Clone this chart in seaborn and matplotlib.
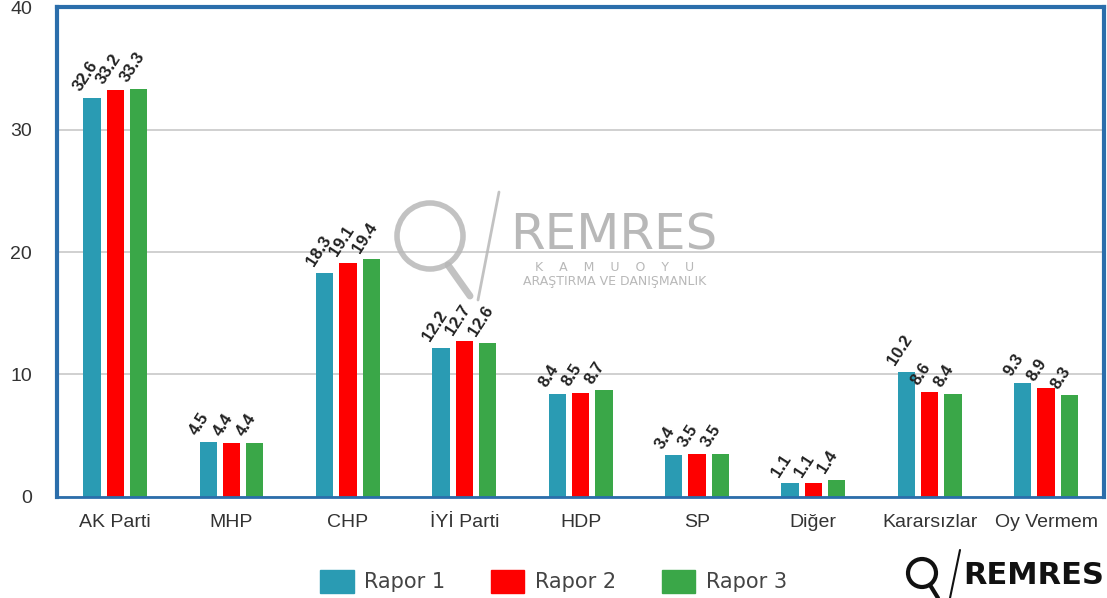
"""Remres poll comparison: three reports, grouped bars."""
import pandas as pd
import matplotlib.pyplot as plt
import matplotlib.patches as mpatches
import matplotlib.lines as mlines
import seaborn as sns

parties = ['AK Parti', 'MHP', 'CHP', 'İYİ Parti', 'HDP', 'SP', 'Diğer', 'Kararsızlar', 'Oy Vermem']
rapor1 = [32.6, 4.5, 18.3, 12.2, 8.4, 3.4, 1.1, 10.2, 9.3]
rapor2 = [33.2, 4.4, 19.1, 12.7, 8.5, 3.5, 1.1, 8.6, 8.9]
rapor3 = [33.3, 4.4, 19.4, 12.6, 8.7, 3.5, 1.4, 8.4, 8.3]
series = ['Rapor 1', 'Rapor 2', 'Rapor 3']
colors = ['#2a9bb3', '#fe0000', '#3aa748']
yticks = [0, 10, 20, 30, 40]

df = pd.DataFrame({'parti': parties, 'Rapor 1': rapor1, 'Rapor 2': rapor2, 'Rapor 3': rapor3})
long = df.melt(id_vars='parti', var_name='rapor', value_name='oy')

sns.set_style('white')
plt.rcParams['font.family'] = ['Liberation Sans', 'DejaVu Sans']

fig = plt.figure(figsize=(11.07, 5.98), dpi=100)
ax = fig.add_axes([0.0515, 0.169, 0.946, 0.819])

# watermark goes under the bars
wm = '#b8b8b8'
fig.patches.append(mpatches.Circle((430, 598 - 236), 33, transform=None, fill=False,
                                   ec=wm, lw=4, alpha=0.85, zorder=0))
fig.lines.append(mlines.Line2D([448, 470], [598 - 265, 598 - 296], transform=None,
                               color=wm, lw=5, alpha=0.85, zorder=0, solid_capstyle='round'))
fig.lines.append(mlines.Line2D([478, 499], [598 - 300, 598 - 192], transform=None,
                               color=wm, lw=2, alpha=0.85, zorder=0))
fig.text(614 / 1107, 1 - 236 / 598, 'REMRES', ha='center', va='center', fontsize=36,
         color=wm, zorder=0, family='DejaVu Sans')
fig.text(615 / 1107, 1 - 268 / 598, 'K    A    M    U    O    Y    U', ha='center', va='center',
         fontsize=9, color=wm, zorder=0, family='DejaVu Sans')
fig.text(615 / 1107, 1 - 282 / 598, 'ARAŞTIRMA VE DANIŞMANLIK', ha='center', va='center',
         fontsize=9, color=wm, zorder=0, family='DejaVu Sans')

sns.barplot(data=long, x='parti', y='oy', hue='rapor', palette=colors, width=0.6, gap=0.26,
            saturation=1, linewidth=0, ax=ax, legend=False, zorder=3)
ax.patch.set_alpha(0)

for cont, vals in zip(ax.containers, [rapor1, rapor2, rapor3]):
    for bar, v in zip(cont, vals):
        ax.annotate(f'{v}', (bar.get_x(), bar.get_height()), xytext=(0, 3),
                    textcoords='offset points', rotation=57, rotation_mode='anchor',
                    ha='left', va='bottom', fontsize=12, fontweight='bold', color='#222')

ax.set_ylim(0, 40)
ax.set_xlim(-0.5, len(parties) - 0.5)
ax.set_yticks(yticks)
ax.yaxis.grid(True, color='#c8c8c8', lw=1.2, zorder=0)
ax.tick_params(axis='y', length=14, color='#c8c8c8', width=1.2, labelsize=14,
               labelcolor='#333', pad=4)
ax.set_xticks(range(len(parties)))
ax.set_xticklabels(parties)
ax.set_xticks([i - 0.5 for i in range(len(parties) + 1)], minor=True)
ax.tick_params(axis='x', which='major', length=0, labelsize=14, labelcolor='#333', pad=12)
ax.tick_params(axis='x', which='minor', length=14, color='#c8c8c8', width=1.2)
ax.set_xlabel('')
ax.set_ylabel('')
for s in ax.spines.values():
    s.set_visible(True)
    s.set_color('#2b6eab')
    s.set_linewidth(3)
    s.set_zorder(5)
ax.spines['bottom'].set_linewidth(2)

handles = [mpatches.Patch(color=c, label=s) for c, s in zip(colors, series)]
fig.legend(handles=handles, loc='center', bbox_to_anchor=(0.5, 0.028), ncol=3, frameon=False,
           prop={'family': 'DejaVu Sans', 'size': 15}, handlelength=1.6, handleheight=1.3,
           columnspacing=2.2, handletextpad=0.5, labelcolor='#444')

# logo bottom right
fig.patches.append(mpatches.Circle((922, 598 - 573), 14, transform=None, fill=False,
                                   ec='#111', lw=3, zorder=5))
fig.lines.append(mlines.Line2D([930, 938], [598 - 585, 598 - 598], transform=None,
                               color='#111', lw=3, zorder=5))
fig.lines.append(mlines.Line2D([950, 960], [598 - 598, 598 - 550], transform=None,
                               color='#111', lw=1.5, zorder=5))
fig.text(1034 / 1107, 1 - 576 / 598, 'REMRES', ha='center', va='center', fontsize=22,
         fontweight='bold', color='#111', family='DejaVu Sans')

fig.savefig('out.png', dpi=100)
